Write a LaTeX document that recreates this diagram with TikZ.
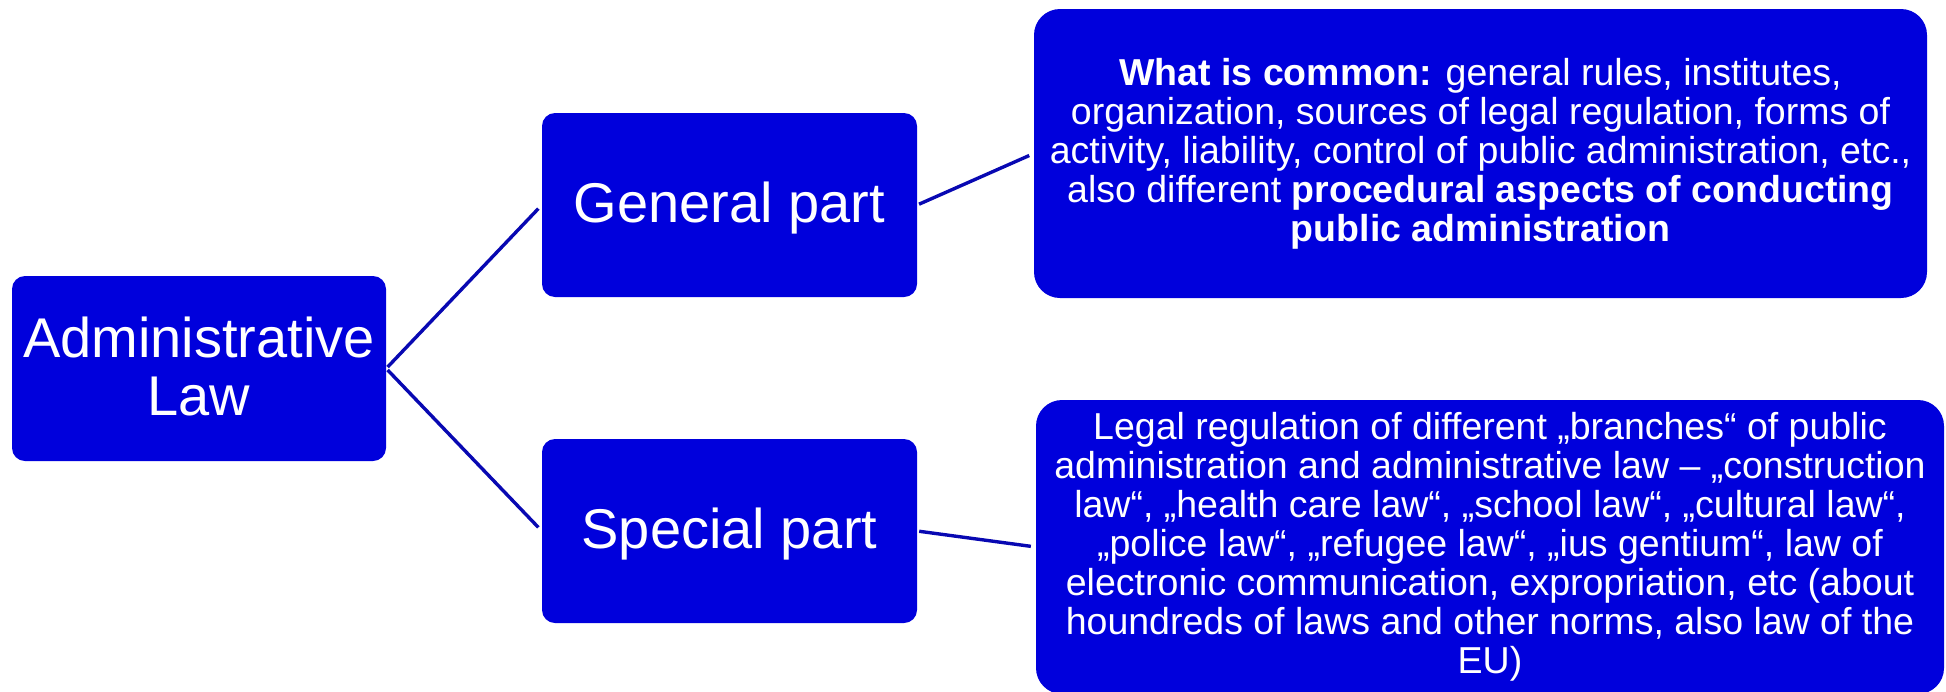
\documentclass[tikz,border=0pt]{standalone}
\usepackage{fontspec}
\setmainfont{Liberation Sans}
\definecolor{boxblue}{RGB}{0,0,220}
\definecolor{lineblue}{RGB}{8,8,178}
\tikzset{
  boxbase/.style={fill=boxblue, draw=none, text=white, rounded corners=13pt, inner sep=0pt, font=\fontsize{56}{58}\selectfont},
  bluebox/.style={boxbase, align=center},
  onelinebox/.style={boxbase, text height=47pt, text depth=12pt},
  textbox/.style={fill=boxblue, draw=none, text=white, rounded corners=26pt, inner sep=0pt, align=center, font=\fontsize{37.5}{39}\selectfont},
  link/.style={draw=lineblue, line width=3.4pt, shorten >=5pt, shorten <=2pt}
}
\begin{document}
\begin{tikzpicture}[x=1pt,y=-1pt]
\useasboundingbox (0,0) rectangle (1946,691);
\clip (0,0) rectangle (1946,691);
\node[bluebox, minimum width=374pt, minimum height=185pt] (admin) at (199,368.5) {Administrative\\Law\vspace{4pt}};
\node[onelinebox, minimum width=375pt, minimum height=184pt] (gen) at (729.5,205) {General part};
\node[onelinebox, minimum width=375pt, minimum height=184pt] (spec) at (729.5,531) {Special part};
\node[textbox, minimum width=893pt, minimum height=289pt] (common) at (1480.5,153.5) {\textbf{What is common:} general rules, institutes,\\organization, sources of legal regulation, forms of\\activity, liability, control of public administration, etc.,\\also different \textbf{procedural aspects of conducting}\\\textbf{public administration}};
\node[textbox, minimum width=908pt, minimum height=294pt] (spectext) at (1490,547) {Legal regulation of different „branches“ of public\\administration and administrative law – „construction\\law“, „health care law“, „school law“, „cultural law“,\\„police law“, „refugee law“, „ius gentium“, law of\\electronic communication, expropriation, etc (about\\houndreds of laws and other norms, also law of the\\EU)};
\draw[link] (admin.east) -- (gen.west);
\draw[link] (admin.east) -- (spec.west);
\draw[link] (gen.east) -- (common.west);
\draw[link] (spec.east) -- (spectext.west);
\end{tikzpicture}
\end{document}
